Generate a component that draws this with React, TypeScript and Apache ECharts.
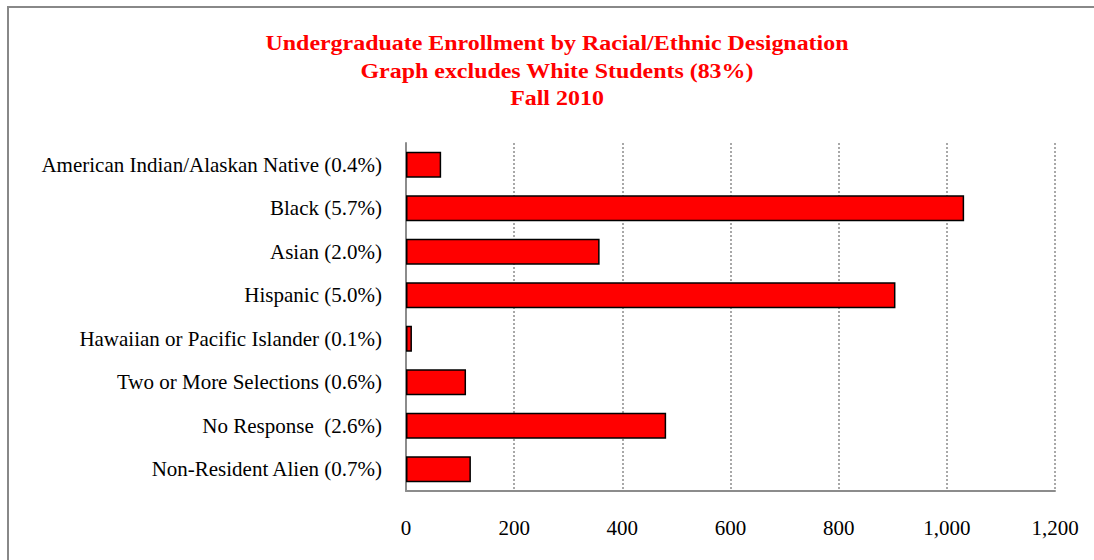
import React, { useEffect, useRef } from "react";
import * as echarts from "echarts";

const titleLines = [
  "Undergraduate Enrollment by Racial/Ethnic Designation",
  "Graph excludes White Students (83%)",
  "Fall 2010",
];

const categories = [
  "American Indian/Alaskan Native (0.4%)",
  "Black (5.7%)",
  "Asian (2.0%)",
  "Hispanic (5.0%)",
  "Hawaiian or Pacific Islander (0.1%)",
  "Two or More Selections (0.6%)",
  "No Response  (2.6%)",
  "Non-Resident Alien (0.7%)",
];

const enrollment = [65, 1032, 358, 905, 11, 111, 481, 120];

const xMin = 0;
const xMax = 1200;
const xInterval = 200;

const SERIF = "'Liberation Serif', 'Times New Roman', serif";

export default function App() {
  const ref = useRef<HTMLDivElement>(null);

  useEffect(() => {
    if (!ref.current) return;
    const chart = echarts.init(ref.current, undefined, { renderer: "svg" });
    const titleY = [43, 71, 98];
    chart.setOption({
      animation: false,
      backgroundColor: "#ffffff",
      graphic: [
        {
          type: "rect",
          shape: { x: 8, y: 7, width: 1200, height: 700 },
          style: { fill: "none", stroke: "#888888", lineWidth: 2 },
          silent: true,
          z: 0,
        },
        ...titleLines.map((t, i) => ({
          type: "text",
          x: 557,
          y: titleY[i],
          scaleX: 1.14,
          style: {
            text: t,
            fill: "#ff0000",
            font: `bold 21px ${SERIF}`,
            textAlign: "center",
            textVerticalAlign: "middle",
          },
        })),
      ],
      grid: { left: 406, right: 39, top: 143, bottom: 69, containLabel: false },
      xAxis: {
        type: "value",
        min: xMin,
        max: xMax,
        interval: xInterval,
        axisLine: { show: true, lineStyle: { color: "#8c8c8c", width: 2 } },
        axisTick: { show: false },
        axisLabel: {
          color: "#000",
          fontFamily: SERIF,
          fontSize: 21,
          margin: 26,
        },
        splitLine: {
          show: true,
          lineStyle: { color: "#8c8c8c", type: [2, 2], width: 1.5 },
        },
      },
      yAxis: {
        type: "category",
        data: categories,
        inverse: true,
        axisLine: { show: true, lineStyle: { color: "#8c8c8c", width: 2 } },
        axisTick: { show: false },
        axisLabel: {
          color: "#000",
          fontFamily: SERIF,
          fontSize: 21,
          margin: 24,
        },
        splitLine: { show: false },
      },
      series: [
        {
          type: "bar",
          data: enrollment,
          barWidth: 26,
          itemStyle: { color: "#ff0000", borderColor: "#000", borderWidth: 1.5 },
        },
      ],
    });
    return () => chart.dispose();
  }, []);

  return (
    <div
      ref={ref}
      style={{ position: "absolute", left: 0, top: 0, width: 1094, height: 560 }}
    />
  );
}
